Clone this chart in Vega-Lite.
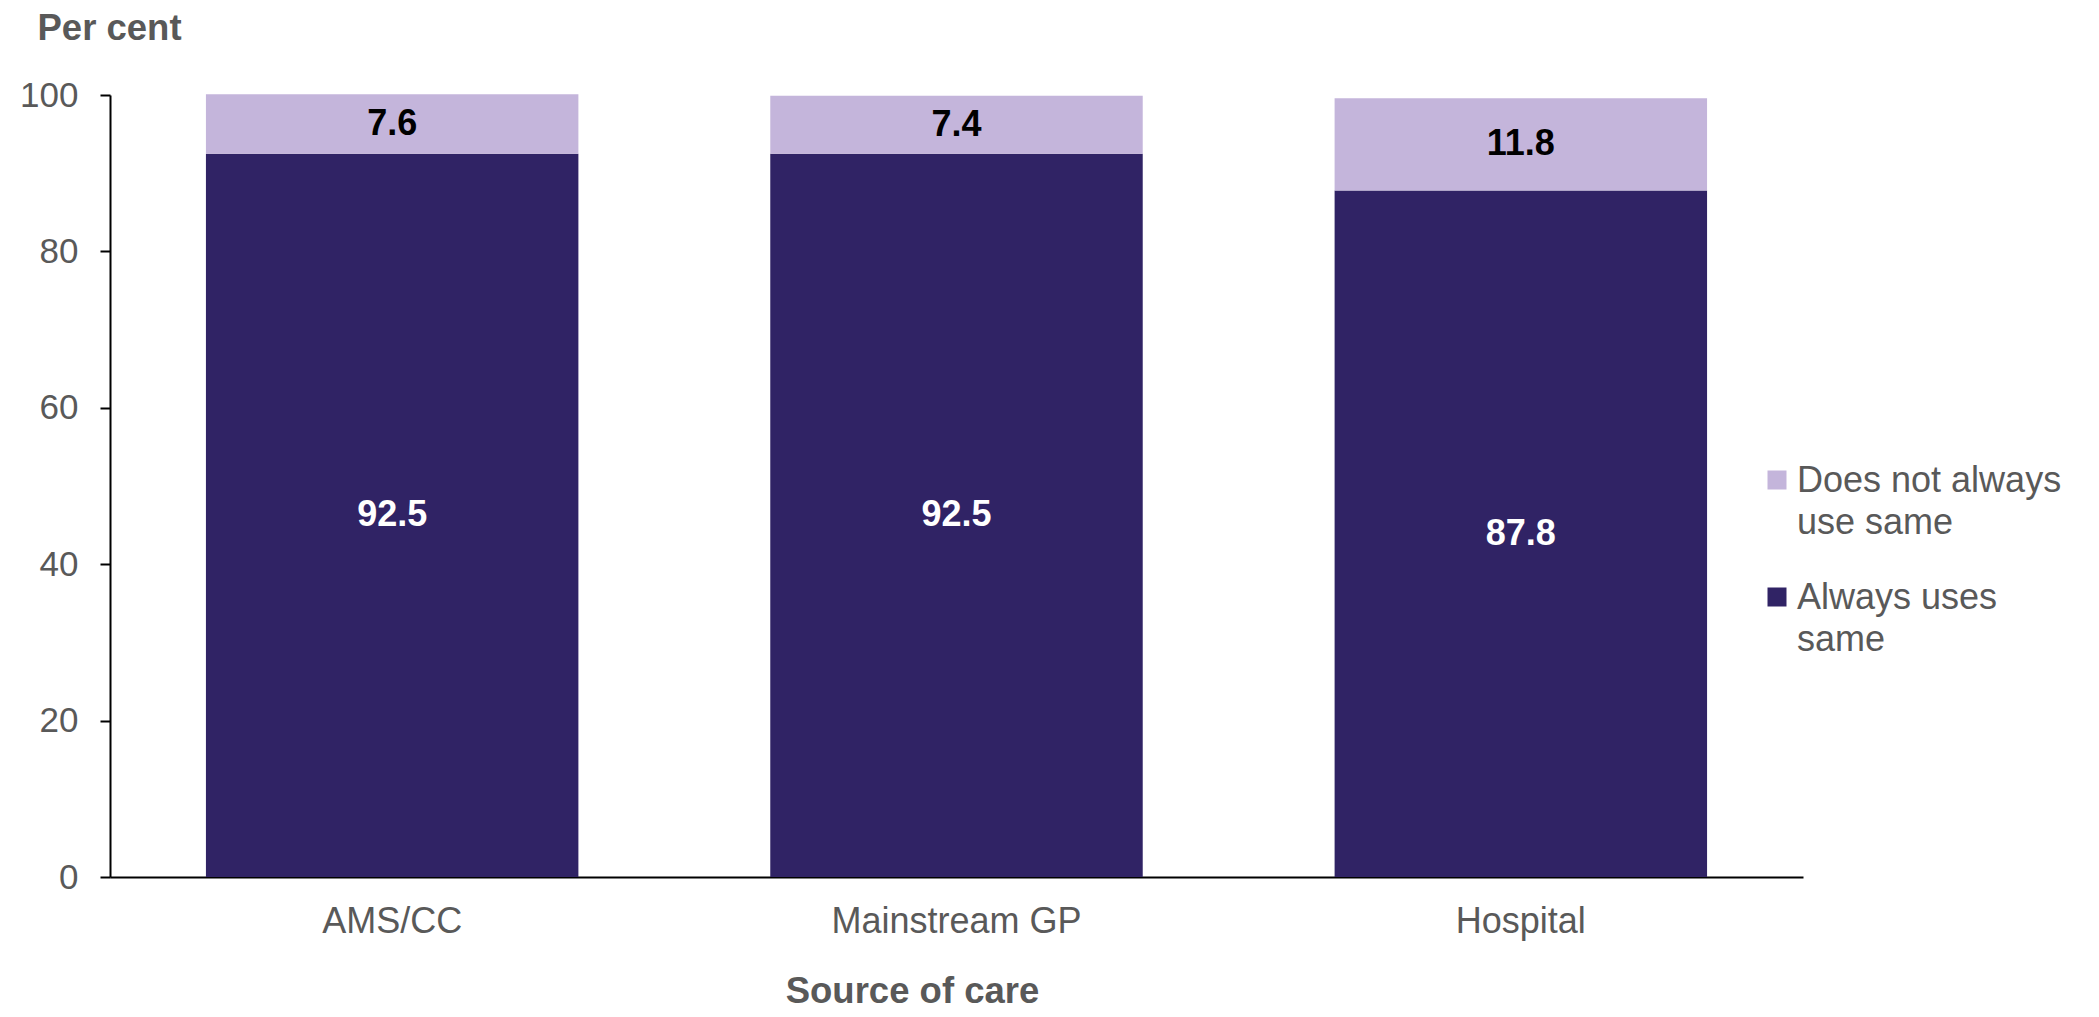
{
  "$schema": "https://vega.github.io/schema/vega-lite/v6.json",
  "width": 1693,
  "height": 782,
  "autosize": {"type": "none"},
  "padding": {"left": 110, "top": 95, "right": 296, "bottom": 140},
  "background": "white",
  "config": {
    "font": "Liberation Sans",
    "view": {"stroke": null}
  },
  "data": {
    "values": [
      {"source": "AMS/CC", "status": "Always uses same", "value": 92.5},
      {"source": "AMS/CC", "status": "Does not always use same", "value": 7.6},
      {"source": "Mainstream GP", "status": "Always uses same", "value": 92.5},
      {"source": "Mainstream GP", "status": "Does not always use same", "value": 7.4},
      {"source": "Hospital", "status": "Always uses same", "value": 87.8},
      {"source": "Hospital", "status": "Does not always use same", "value": 11.8}
    ]
  },
  "encoding": {
    "x": {
      "field": "source",
      "type": "nominal",
      "sort": ["AMS/CC", "Mainstream GP", "Hospital"],
      "scale": {"paddingInner": 0.34, "paddingOuter": 0.17},
      "axis": {
        "title": "Source of care",
        "titleFontSize": 36.5,
        "titleFontWeight": "bold",
        "titleColor": "#595959",
        "titleX": 802,
        "titleY": 125,
        "titleAlign": "center",
        "titleBaseline": "alphabetic",
        "labelAngle": 0,
        "labelFontSize": 36,
        "labelColor": "#595959",
        "labelLimit": 500,
        "labelBaseline": "alphabetic",
        "labelPadding": 55,
        "ticks": false,
        "tickSize": 0,
        "domainColor": "black",
        "domainWidth": 2
      }
    },
    "y": {
      "field": "value",
      "type": "quantitative",
      "stack": "zero",
      "scale": {"domain": [0, 100], "nice": false},
      "axis": {
        "title": "Per cent",
        "titleFontSize": 36.5,
        "titleFontWeight": "bold",
        "titleColor": "#595959",
        "titleAngle": 0,
        "titleX": -73,
        "titleY": -56,
        "titleAlign": "left",
        "titleBaseline": "alphabetic",
        "values": [0, 20, 40, 60, 80, 100],
        "labelFontSize": 35,
        "labelColor": "#595959",
        "labelPadding": 22,
        "tickSize": 10,
        "tickColor": "black",
        "tickWidth": 2,
        "domainColor": "black",
        "domainWidth": 2,
        "grid": false
      }
    },
    "order": {"field": "status", "type": "nominal", "sort": "ascending"}
  },
  "layer": [
    {
      "mark": {"type": "bar"},
      "encoding": {
        "color": {
          "field": "status",
          "type": "nominal",
          "scale": {
            "domain": ["Does not always use same", "Always uses same"],
            "range": ["#C4B5DB", "#302365"]
          },
          "legend": {
            "title": null,
            "orient": "none",
            "legendX": 1649,
            "legendY": 367,
            "padding": 0,
            "symbolType": "square",
            "symbolSize": 361,
            "symbolStrokeWidth": 0,
            "labelFontSize": 36,
            "labelColor": "#595959",
            "labelLimit": 400,
            "labelOffset": 2,
            "labelBaseline": "top",
            "rowPadding": 38,
            "labelExpr": "datum.label == 'Does not always use same' ? ['Does not always', 'use same'] : ['Always uses', 'same']",
            "encode": {"labels": {"update": {"dy": {"value": -16}, "lineHeight": {"value": 41.5}}}}
          }
        }
      }
    },
    {
      "mark": {"type": "text", "fontSize": 36, "fontWeight": "bold", "baseline": "middle"},
      "encoding": {
        "y": {"field": "value", "type": "quantitative", "stack": "zero", "bandPosition": 0.5},
        "text": {"field": "value", "type": "quantitative", "format": ".1f"},
        "detail": {"field": "status"},
        "color": {
          "condition": {"test": "datum.status == 'Always uses same'", "value": "white"},
          "value": "black"
        }
      }
    }
  ]
}
